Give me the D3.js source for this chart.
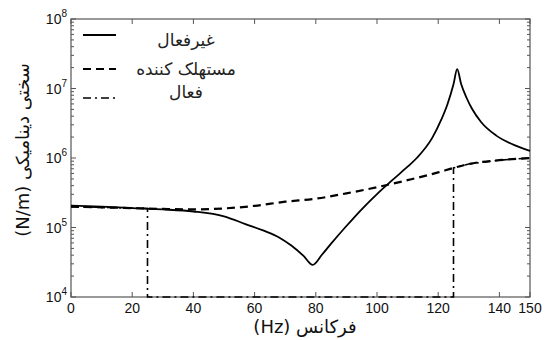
<!DOCTYPE html>
<html>
<head>
<meta charset="utf-8">
<script src="https://cdn.jsdelivr.net/npm/d3@7"></script>
<style>
  body { margin: 0; background: #fff; }
  svg { display: block; }
  .fa { font-family: "DejaVu Sans", sans-serif; direction: rtl; }
  .num { font-family: "Liberation Sans", Arial, sans-serif; }
</style>
</head>
<body>
<svg id="chart" width="548" height="340"></svg>
<script>
// frequency (Hz) and dynamic stiffness (N/m)
const passiveHz = [0, 10, 20, 30, 40, 50, 57, 63, 68, 72, 76, 79, 82, 85, 90, 95, 100, 105, 110, 113, 118, 121, 123, 125, 126.2, 127.5, 129.3, 131, 134, 139, 144.5, 150];
const passiveK = [2.07e5, 2.0e5, 1.9e5, 1.82e5, 1.7e5, 1.45e5, 1.12e5, 9.0e4, 7.2e4, 5.5e4, 3.9e4, 2.9e4, 4.05e4, 5.85e4, 1.05e5, 1.83e5, 3.03e5, 4.8e5, 7.5e5, 1.0e6, 1.93e6, 3.56e6, 5.9e6, 1.15e7, 1.9e7, 1.16e7, 7.3e6, 5.15e6, 3.3e6, 2.1e6, 1.56e6, 1.27e6];

const absorberHz = [0, 10, 20, 30, 40, 50, 60, 70, 80, 90, 100, 110, 120, 125, 130, 140, 150];
const absorberK = [2.0e5, 1.95e5, 1.9e5, 1.85e5, 1.82e5, 1.88e5, 2.05e5, 2.35e5, 2.6e5, 3.1e5, 3.8e5, 4.8e5, 6.2e5, 7.2e5, 8.2e5, 9.3e5, 1.0e6];

const activeHz = [0, 10, 20, 25, 25, 125, 125, 130, 140, 150];
const activeK = [2.0e5, 1.95e5, 1.9e5, 1.88e5, 1e4, 1e4, 7.2e5, 8.2e5, 9.3e5, 1.0e6];

const xTicks = [0, 20, 40, 60, 80, 100, 120, 140, 150];
const yTicks = [1e4, 1e5, 1e6, 1e7, 1e8];

const legendNames = ['غیرفعال', 'مستهلک کننده', 'فعال'];
const xTitle = 'فرکانس (Hz)';
const yTitle = 'سختی دینامیکی (N/m)';

const svg = d3.select('#chart');
const pl = 71, pr = 530, pt = 19, pb = 297;

const x = d3.scaleLinear().domain([0, 150]).range([pl, pr]);
const y = d3.scaleLog().domain([1e4, 1e8]).range([pb, pt]);

const axisColor = '#555';

// minor log ticks
const minor = [];
for (let e = 4; e < 8; e++) for (let m = 2; m <= 9; m++) minor.push(m * Math.pow(10, e));

const ticksG = svg.append('g').attr('stroke', axisColor).attr('stroke-width', 1);
minor.forEach(v => {
  ticksG.append('line').attr('x1', pl).attr('x2', pl + 3).attr('y1', y(v)).attr('y2', y(v));
  ticksG.append('line').attr('x1', pr).attr('x2', pr - 3).attr('y1', y(v)).attr('y2', y(v));
});
yTicks.forEach(v => {
  ticksG.append('line').attr('x1', pl).attr('x2', pl + 5).attr('y1', y(v)).attr('y2', y(v));
  ticksG.append('line').attr('x1', pr).attr('x2', pr - 5).attr('y1', y(v)).attr('y2', y(v));
});
xTicks.forEach(v => {
  ticksG.append('line').attr('x1', x(v)).attr('x2', x(v)).attr('y1', pb).attr('y2', pb - 5);
  ticksG.append('line').attr('x1', x(v)).attr('x2', x(v)).attr('y1', pt).attr('y2', pt + 5);
});

svg.append('rect')
  .attr('x', pl).attr('y', pt)
  .attr('width', pr - pl).attr('height', pb - pt)
  .attr('fill', 'none').attr('stroke', axisColor).attr('stroke-width', 1.2);

// tick labels
svg.append('g').selectAll('text').data(xTicks).join('text')
  .attr('class', 'num')
  .attr('x', d => x(d)).attr('y', 313)
  .attr('text-anchor', 'middle')
  .attr('font-size', 14)
  .attr('fill', '#111')
  .text(d => d);

const yl = svg.append('g').selectAll('text').data(yTicks).join('text')
  .attr('class', 'num')
  .attr('x', 67).attr('y', d => y(d) + 5)
  .attr('text-anchor', 'end')
  .attr('font-size', 14)
  .attr('fill', '#111');
yl.append('tspan').text('10');
yl.append('tspan').attr('font-size', 10).attr('dy', -7).text(d => Math.round(Math.log10(d)));

// curves
const line = (xs, ys, curve) => d3.line()
  .x((d, i) => x(xs[i]))
  .y((d, i) => y(ys[i]))
  .curve(curve)(xs);

const plot = svg.append('g').attr('fill', 'none').attr('stroke', '#000');

plot.append('path')
  .attr('d', line(activeHz, activeK, d3.curveLinear))
  .attr('stroke-width', 1.6)
  .attr('stroke-dasharray', '8,4,2,4');

plot.append('path')
  .attr('d', line(absorberHz, absorberK, d3.curveMonotoneX))
  .attr('stroke-width', 2.2)
  .attr('stroke-dasharray', '8,5');

plot.append('path')
  .attr('d', line(passiveHz, passiveK, d3.curveMonotoneX))
  .attr('stroke-width', 1.8);

// legend
const legendY = [35, 69, 98];
const legendTextY = [46, 75, 98];
const dashes = [null, '8,5', '8,4,2,4'];
const widths = [1.8, 2.2, 1.6];
legendNames.forEach((name, i) => {
  svg.append('line')
    .attr('x1', 83).attr('x2', 116)
    .attr('y1', legendY[i]).attr('y2', legendY[i])
    .attr('stroke', '#000').attr('stroke-width', widths[i])
    .attr('stroke-dasharray', dashes[i]);
  svg.append('text')
    .attr('class', 'fa')
    .attr('x', 186).attr('y', legendTextY[i])
    .attr('text-anchor', 'middle')
    .attr('font-size', 17)
    .attr('fill', '#222')
    .text(name);
});

// axis titles
svg.append('text')
  .attr('class', 'fa')
  .attr('x', 305).attr('y', 333)
  .attr('text-anchor', 'middle')
  .attr('font-size', 18)
  .attr('fill', '#111')
  .text(xTitle);

svg.append('text')
  .attr('class', 'fa')
  .attr('transform', 'translate(29,150) rotate(-90)')
  .attr('text-anchor', 'middle')
  .attr('font-size', 18)
  .attr('fill', '#111')
  .text(yTitle);
</script>
</body>
</html>
